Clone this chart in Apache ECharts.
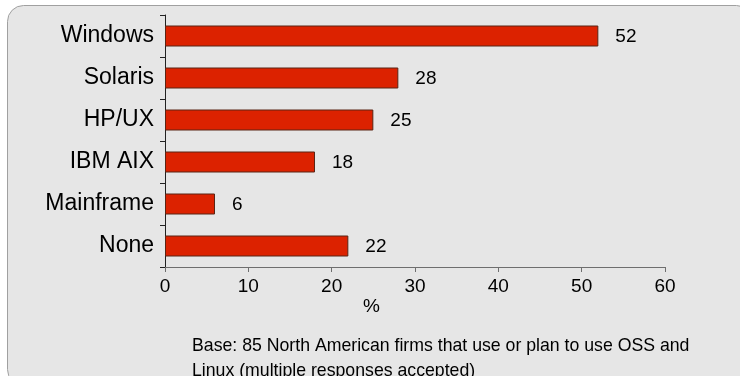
<!DOCTYPE html>
<html>
<head>
<meta charset="utf-8">
<script src="https://cdn.jsdelivr.net/npm/echarts@6/dist/echarts.min.js"></script>
<style>
  html, body { margin:0; padding:0; background:#ffffff; }
  #main { width:740px; height:376px; }
</style>
</head>
<body>
<div id="main"></div>
<script>
// data
var categories = ['Windows', 'Solaris', 'HP/UX', 'IBM AIX', 'Mainframe', 'None'];
var shares = [52, 28, 25, 18, 6, 22];
var xTicks = [0, 10, 20, 30, 40, 50, 60];
var axisTitle = '%';
var noteLines = ['Base: 85 North American firms that use or plan to use OSS and',
                 'Linux (multiple responses accepted)'];

var myChart = echarts.init(document.getElementById('main'));

var option = {
  backgroundColor: '#ffffff',
  animation: false,
  textStyle: { fontFamily: 'Liberation Sans' },
  graphic: [
    {
      type: 'rect',
      z: -10,
      shape: { x: 7.5, y: 5.5, width: 745, height: 380, r: 16 },
      style: { fill: '#e6e6e6', stroke: '#a0a0a0', lineWidth: 1 }
    },
    {
      type: 'text',
      left: 363,
      top: 297,
      style: { text: axisTitle, font: '19px "Liberation Sans"', fill: '#000' }
    },
    {
      type: 'text',
      left: 192,
      top: 334,
      style: { text: noteLines.join('\n'), font: '17.7px "Liberation Sans"', lineHeight: 25, fill: '#000' }
    }
  ],
  grid: { left: 165, right: 75, top: 15, bottom: 109 },
  xAxis: {
    type: 'value',
    min: xTicks[0],
    max: xTicks[xTicks.length - 1],
    interval: 10,
    splitLine: { show: false },
    axisLine: { show: true, lineStyle: { color: '#6e6e6e', width: 1 } },
    axisTick: { show: true, length: 5, lineStyle: { color: '#6e6e6e' } },
    axisLabel: { color: '#000', fontSize: 19, margin: 10, fontFamily: 'Liberation Sans' }
  },
  yAxis: {
    type: 'category',
    data: categories,
    inverse: true,
    axisLine: { show: true, lineStyle: { color: '#222', width: 1 } },
    axisTick: { show: true, length: 5, lineStyle: { color: '#222' } },
    axisLabel: { color: '#000', fontSize: 23, margin: 11, fontFamily: 'Liberation Sans' }
  },
  series: [
    {
      type: 'bar',
      data: shares,
      barWidth: 21,
      itemStyle: { color: '#dc2200', borderColor: '#5a2414', borderWidth: 1 },
      label: {
        show: true,
        position: 'right',
        distance: 17,
        offset: [0, 1],
        color: '#000',
        fontSize: 19,
        fontFamily: 'Liberation Sans'
      }
    }
  ]
};

myChart.setOption(option);
</script>
</body>
</html>
